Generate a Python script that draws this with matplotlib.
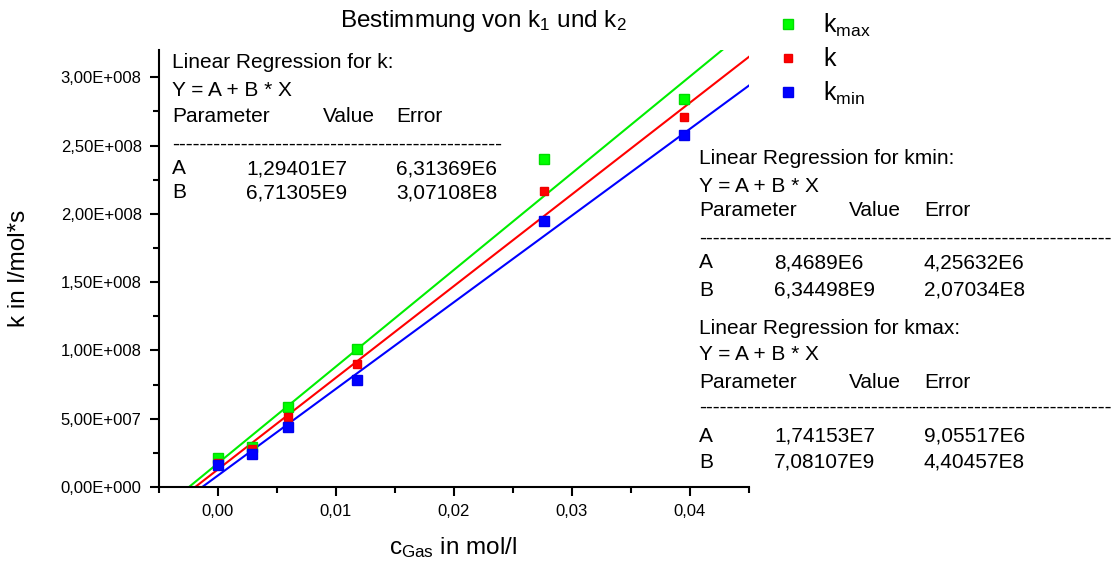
import numpy as np
import matplotlib
matplotlib.use('Agg')
import matplotlib.pyplot as plt
from matplotlib.ticker import MultipleLocator, FuncFormatter

plt.rcParams['font.family'] = ['Liberation Sans', 'DejaVu Sans']
plt.rcParams['mathtext.default'] = 'regular'

# Messwerte
c_gas = [0.0, 0.0029, 0.0059, 0.0118, 0.0276, 0.0395]
k_max = [2.1e7, 2.95e7, 5.85e7, 1.01e8, 2.40e8, 2.84e8]
k_mid = [1.75e7, 2.8e7, 5.1e7, 9.0e7, 2.17e8, 2.71e8]
k_min = [1.6e7, 2.4e7, 4.4e7, 7.8e7, 1.945e8, 2.575e8]

# Regressionsparameter (A, B)
fit_k = (1.29401e7, 6.71305e9)
fit_kmin = (8.4689e6, 6.34498e9)
fit_kmax = (1.74153e7, 7.08107e9)

W, H = 1120, 564
fig = plt.figure(figsize=(W / 100, H / 100), dpi=100)
ax = fig.add_axes([159 / W, 1 - 487 / H, (749 - 159) / W, (487 - 50) / H])

def px(x, y):
    return x / W, 1 - y / H

x_end = 0.045
for (a, b), col in [(fit_kmax, '#00ee00'), (fit_k, '#ff0000'), (fit_kmin, '#0000ff')]:
    xs = np.array([-a / b, x_end])
    ax.plot(xs, a + b * xs, color=col, lw=1.5, zorder=2)

h_max, = ax.plot(c_gas, k_max, 's', color='#00ff00', ms=7, mec='#00dd00', zorder=3, label='k$_{max}$')
h_k, = ax.plot(c_gas, k_mid, 's', color='#ff0000', ms=5.5, mec='#ee0000', zorder=3, label='k')
h_min, = ax.plot(c_gas, k_min, 's', color='#0000ff', ms=7, mec='#0000ee', zorder=3, label='k$_{min}$')

ax.set_xlim(-0.005, 0.045)
ax.set_ylim(0, 3.2e8)
ax.spines['top'].set_visible(False)
ax.spines['right'].set_visible(False)
ax.spines['left'].set_linewidth(1.5)
ax.spines['bottom'].set_linewidth(1.5)
ax.xaxis.set_major_locator(MultipleLocator(0.01))
ax.xaxis.set_minor_locator(MultipleLocator(0.005))
ax.yaxis.set_major_locator(MultipleLocator(5e7))
ax.yaxis.set_minor_locator(MultipleLocator(2.5e7))
ax.xaxis.set_major_formatter(FuncFormatter(lambda v, p: f'{v:.2f}'.replace('.', ',')))

def sci(v, p):
    if v == 0:
        return '0,00E+000'
    e = int(np.floor(np.log10(abs(v))))
    m = v / 10 ** e
    return f'{m:.2f}'.replace('.', ',') + f'E+{e:03d}'

ax.yaxis.set_major_formatter(FuncFormatter(sci))
ax.tick_params(which='major', length=6.5, width=1.5, labelsize=12, direction='out', pad=6)
ax.tick_params(which='minor', length=4, width=1.5, direction='out')

fig.text(*px(483, 21), 'Bestimmung von k$_1$ und k$_2$', fontsize=17.5, ha='center', va='center')
fig.text(*px(19, 268), 'k in l/mol*s', fontsize=17.5, rotation=90, ha='center', va='center')
fig.text(*px(453, 554), 'c$_{Gas}$ in mol/l', fontsize=17.5, ha='center', va='baseline')

ax.legend(handles=[h_max, h_k, h_min], loc='upper left', bbox_to_anchor=px(758, -6),
          bbox_transform=fig.transFigure, frameon=False, fontsize=18, numpoints=1,
          labelspacing=0.35, handletextpad=0.9, handlelength=1.0, borderpad=0.2)

def block(x0, ys, title, a_vals, b_vals, col2, col_val, col3, n_dash):
    fs = 15
    fig.text(*px(x0, ys[0]), title, fontsize=fs, va='center')
    fig.text(*px(x0, ys[1]), 'Y = A + B * X', fontsize=fs, va='center')
    fig.text(*px(x0, ys[2]), 'Parameter', fontsize=fs, va='center')
    fig.text(*px(col_val, ys[2]), 'Value', fontsize=fs, va='center')
    fig.text(*px(col3, ys[2]), 'Error', fontsize=fs, va='center')
    fig.text(*px(x0, ys[3]), '-' * n_dash, fontsize=fs, va='center')
    fig.text(*px(x0, ys[4]), 'A', fontsize=fs, va='center')
    fig.text(*px(col2, ys[4]), a_vals[0], fontsize=fs, va='center')
    fig.text(*px(col3, ys[4]), a_vals[1], fontsize=fs, va='center')
    fig.text(*px(x0, ys[5]), 'B', fontsize=fs, va='center')
    fig.text(*px(col2, ys[5]), b_vals[0], fontsize=fs, va='center')
    fig.text(*px(col3, ys[5]), b_vals[1], fontsize=fs, va='center')

block(172, [63, 90, 117, 144, 169, 193], 'Linear Regression for k:',
      ('1,29401E7', '6,31369E6'), ('6,71305E9', '3,07108E8'), 246, 323, 396, 48)
block(699, [159, 186, 211, 238, 263, 290], 'Linear Regression for kmin:',
      ('8,4689E6', '4,25632E6'), ('6,34498E9', '2,07034E8'), 774, 849, 924, 60)
block(699, [329, 355, 382, 407, 436, 462], 'Linear Regression for kmax:',
      ('1,74153E7', '9,05517E6'), ('7,08107E9', '4,40457E8'), 774, 849, 924, 60)

fig.savefig('out.png', dpi=100)
